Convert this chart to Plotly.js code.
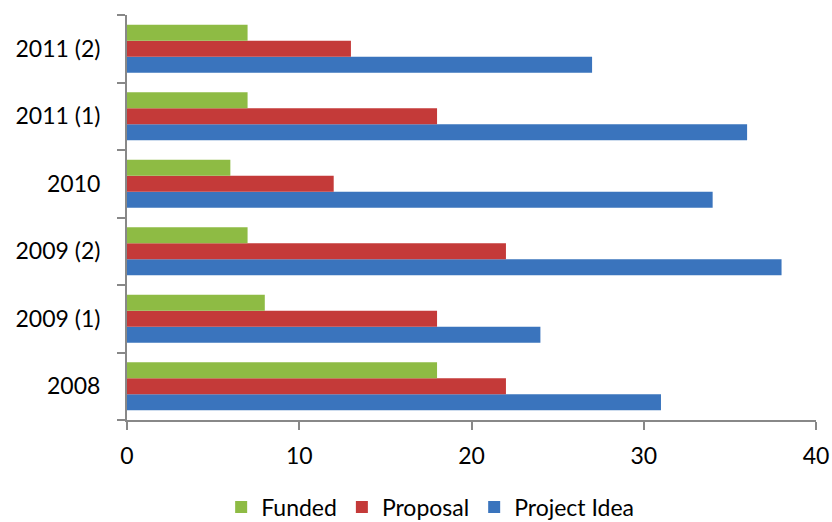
<!DOCTYPE html>
<html>
<head>
<meta charset="utf-8">
<script src="https://cdn.plot.ly/plotly-3.0.1.min.js"></script>
<style>html,body{margin:0;padding:0;background:#fff;}#chart{width:832px;height:522px;}</style>
</head>
<body>
<div id="chart"></div>
<script>
const categories = ["2008", "2009 (1)", "2009 (2)", "2010", "2011 (1)", "2011 (2)"];
const projectIdea = [31, 24, 38, 34, 36, 27];
const proposal = [22, 18, 22, 12, 18, 13];
const funded = [18, 8, 7, 6, 7, 7];
const xTicks = [0, 10, 20, 30, 40];

const font = {family: "Lato, 'Open Sans', sans-serif", size: 23, color: "#000"};

const traces = [
  {type: "bar", orientation: "h", name: "Project Idea", y: categories, x: projectIdea,
   marker: {color: "#3A74BD", line: {width: 0}}},
  {type: "bar", orientation: "h", name: "Proposal", y: categories, x: proposal,
   marker: {color: "#C43A39", line: {width: 0}}},
  {type: "bar", orientation: "h", name: "Funded", y: categories, x: funded,
   marker: {color: "#8EBB44", line: {width: 0}}}
];

const layout = {
  width: 832, height: 522,
  margin: {l: 127, r: 16, t: 15, b: 102, autoexpand: false},
  paper_bgcolor: "#fff", plot_bgcolor: "#fff",
  font: font,
  barmode: "group", bargap: 0.29, bargroupgap: 0,
  showlegend: true,
  legend: {orientation: "h", x: 0.44, xanchor: "center", y: -0.215, yanchor: "middle",
           traceorder: "reversed", font: font, itemwidth: 30},
  xaxis: {range: [0, 40], tickvals: xTicks, ticktext: xTicks.map(String),
          showgrid: false, zeroline: false, showline: true, linecolor: "#888", linewidth: 2,
          ticks: "outside", ticklen: 8, tickcolor: "#888", tickwidth: 2,
          tickfont: font, ticklabelstandoff: 6, fixedrange: true},
  yaxis: {type: "category", categoryorder: "array", categoryarray: categories,
          range: [-0.5, 5.5],
          showgrid: false, zeroline: false, showline: true, linecolor: "#888", linewidth: 2,
          ticks: "outside", tickson: "boundaries", ticklen: 8, tickcolor: "#888", tickwidth: 2,
          tickfont: font, ticklabelstandoff: 20, fixedrange: true}
};

Plotly.newPlot("chart", traces, layout, {displayModeBar: false, staticPlot: true});
</script>
</body>
</html>
